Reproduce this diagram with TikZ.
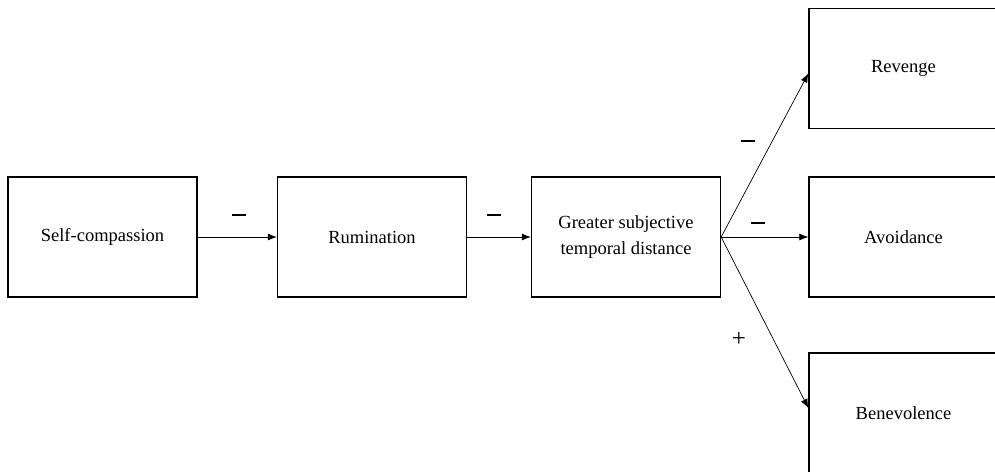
\documentclass[tikz,border=0pt]{standalone}
\usepackage{fontspec}
\setmainfont{Liberation Serif}
\usetikzlibrary{arrows.meta}
\begin{document}
\begin{tikzpicture}[x=1pt,y=-1pt,
  box/.style={draw=black,line width=1.3pt,minimum width=189pt,minimum height=120pt,
    inner sep=0pt,align=center,font=\fontsize{18.5}{26.5}\selectfont},
  conn/.style={line width=0.7pt,-{Latex[length=9pt,width=7pt]}},
  sign/.style={inner sep=0pt,font=\fontsize{25}{28}\selectfont}]
\useasboundingbox (0,0) rectangle (995,471);
\node[box] (self) at (102.5,237) {Self-compassion};
\node[box] (rum) at (372,237) {Rumination};
\node[box] (gst) at (626,237) {Greater subjective\\temporal distance};
\node[box] (rev) at (903.5,68.5) {Revenge};
\node[box] (avo) at (903.5,237) {Avoidance};
\node[box] (ben) at (903.5,413) {Benevolence};
\draw[conn] (self.east) -- (rum.west);
\draw[conn] (rum.east) -- (gst.west);
\draw[conn] (gst.east) -- ([yshift=-5pt]rev.west);
\draw[conn] (gst.east) -- (avo.west);
\draw[conn] (gst.east) -- ([yshift=5pt]ben.west);
\node[sign] (m1) at (239,215) {\rule{14pt}{2pt}};
\node[sign] (m2) at (494,215) {\rule{14pt}{2pt}};
\node[sign] (m3) at (748,141) {\rule{14pt}{2pt}};
\node[sign] (m4) at (758,223) {\rule{14pt}{2pt}};
\node[sign] (p1) at (739,339) {+};
\end{tikzpicture}
\end{document}
